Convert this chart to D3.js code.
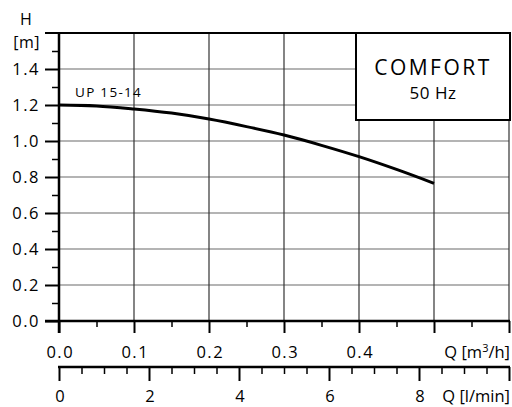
<!DOCTYPE html>
<html>
<head>
<meta charset="utf-8">
<script src="https://cdn.jsdelivr.net/npm/d3@7"></script>
<style>
  html, body { margin: 0; padding: 0; background: #fff; }
  svg { display: block; font-family: "Open Sans", sans-serif; }
</style>
</head>
<body>
<svg id="chart" width="512" height="407"></svg>
<script>
// Pump curve: head H [m] against flow Q [m³/h]
const flowQ = [0, 0.05, 0.1, 0.15, 0.2, 0.25, 0.3, 0.35, 0.4, 0.45, 0.5];
const headH = [1.2, 1.195, 1.178, 1.155, 1.122, 1.08, 1.033, 0.976, 0.913, 0.842, 0.765];
const yTickLabels = ["0.0", "0.2", "0.4", "0.6", "0.8", "1.0", "1.2", "1.4"];
const qTickLabels = ["0.0", "0.1", "0.2", "0.3", "0.4"];
const lminTickLabels = ["0", "2", "4", "6", "8"];
const curveName = "UP 15-14";
const modeTitle = "COMFORT";
const modeFreq = "50 Hz";

const FONT = "Open Sans, sans-serif";
const svg = d3.select("#chart");
const x = d3.scaleLinear().domain([0, 0.6]).range([59, 509]);
const y = d3.scaleLinear().domain([0, 1.6]).range([321, 33]);
const xl = d3.scaleLinear().domain([0, 10]).range([59, 509]); // l/min = m³/h * 1000/60

const g = svg.append("g");

// horizontal grid every 0.2 m
const hVals = d3.range(0.2, 1.61, 0.2);
g.selectAll(".hgrid").data(hVals).join("line")
  .attr("x1", x(0)).attr("x2", x(0.6))
  .attr("y1", d => y(d)).attr("y2", d => y(d))
  .attr("stroke", "#6a6a6a").attr("stroke-width", 1.2);

// vertical grid every 0.1 m³/h
const vVals = d3.range(0.1, 0.61, 0.1);
g.selectAll(".vgrid").data(vVals).join("line")
  .attr("x1", d => x(d)).attr("x2", d => x(d))
  .attr("y1", y(0)).attr("y2", y(1.6))
  .attr("stroke", "#333").attr("stroke-width", 1.2);

// top border line extended left as tick
g.append("line").attr("x1", 45).attr("x2", x(0.6) + 1)
  .attr("y1", y(1.6)).attr("y2", y(1.6))
  .attr("stroke", "#000").attr("stroke-width", 2);

// pump curve
const line = d3.line().x((d, i) => x(flowQ[i])).y(d => y(d)).curve(d3.curveMonotoneX);
g.append("path").datum(headH)
  .attr("d", line).attr("fill", "none")
  .attr("stroke", "#000").attr("stroke-width", 3);

// mode box
const bx0 = 356, by1 = 120;
g.append("rect").attr("x", bx0).attr("y", y(1.6))
  .attr("width", x(0.6) + 1 - bx0).attr("height", by1 - y(1.6))
  .attr("fill", "#fff").attr("stroke", "#000").attr("stroke-width", 2);
g.append("text").attr("x", 433).attr("y", 75).attr("text-anchor", "middle")
  .attr("font-size", 21).attr("letter-spacing", 2.5).text(modeTitle);
g.append("text").attr("x", 433).attr("y", 99).attr("text-anchor", "middle")
  .attr("font-size", 17).attr("letter-spacing", 0.5).text(modeFreq);

// Y axis
const yAxis = d3.axisLeft(y).tickValues(d3.range(0, 1.41, 0.2))
  .tickSize(14).tickFormat((d, i) => yTickLabels[i]);
const ya = g.append("g").attr("transform", `translate(${x(0)},0)`).call(yAxis);
ya.select(".domain").remove();
ya.selectAll(".tick line").attr("stroke", "#000").attr("stroke-width", 2);
ya.selectAll(".tick text").attr("x", -19).attr("dy", "0.36em")
  .attr("font-size", 16.5).attr("letter-spacing", 1.5).attr("fill", "#000")
  .attr("font-family", FONT);
const yMinor = d3.axisLeft(y).tickValues(d3.range(0.1, 1.6, 0.2)).tickSize(7).tickFormat("");
const ym = g.append("g").attr("transform", `translate(${x(0)},0)`).call(yMinor);
ym.select(".domain").remove();
ym.selectAll(".tick line").attr("stroke", "#000").attr("stroke-width", 1.5);
g.append("line").attr("x1", x(0)).attr("x2", x(0))
  .attr("y1", y(1.6) - 1).attr("y2", y(0) + 12)
  .attr("stroke", "#000").attr("stroke-width", 2.5);

// X axis (m³/h)
const xAxis = d3.axisBottom(x).tickValues(d3.range(0, 0.61, 0.1))
  .tickSize(12).tickFormat((d, i) => qTickLabels[i] || "");
const xa = g.append("g").attr("transform", `translate(0,${y(0)})`).call(xAxis);
xa.select(".domain").remove();
xa.selectAll(".tick line").attr("stroke", "#000").attr("stroke-width", 2);
xa.selectAll(".tick text").attr("y", 37).attr("dy", 0).attr("dx", 0.75)
  .attr("font-size", 16.5).attr("letter-spacing", 1.5).attr("fill", "#000")
  .attr("font-family", FONT);
const xMinor = d3.axisBottom(x).tickValues(d3.range(0.05, 0.6, 0.1)).tickSize(6).tickFormat("");
const xm = g.append("g").attr("transform", `translate(0,${y(0)})`).call(xMinor);
xm.select(".domain").remove();
xm.selectAll(".tick line").attr("stroke", "#000").attr("stroke-width", 1.5);
g.append("line").attr("x1", x(0) - 14).attr("x2", x(0.6) + 1)
  .attr("y1", y(0)).attr("y2", y(0))
  .attr("stroke", "#000").attr("stroke-width", 2.5);

// second X axis (l/min)
const axY2 = 367;
const lAxis = d3.axisBottom(xl).tickValues(d3.range(0, 10.1, 2))
  .tickSize(14).tickFormat((d, i) => lminTickLabels[i] || "");
const la = g.append("g").attr("transform", `translate(0,${axY2})`).call(lAxis);
la.select(".domain").remove();
la.selectAll(".tick line").attr("stroke", "#000").attr("stroke-width", 2);
la.selectAll(".tick text").attr("y", 35).attr("dy", 0).attr("dx", 0.5)
  .attr("font-size", 16.5).attr("fill", "#000")
  .attr("font-family", FONT);
const lMinor = d3.axisBottom(xl).tickValues(d3.range(0.5, 10, 0.5).filter(v => v % 2 !== 0))
  .tickSize(7).tickFormat("");
const lm = g.append("g").attr("transform", `translate(0,${axY2})`).call(lMinor);
lm.select(".domain").remove();
lm.selectAll(".tick line").attr("stroke", "#000").attr("stroke-width", 1.5);
g.append("line").attr("x1", xl(0) - 1).attr("x2", xl(10) + 1)
  .attr("y1", axY2).attr("y2", axY2)
  .attr("stroke", "#000").attr("stroke-width", 2.5);

// axis titles
g.append("text").attr("x", 26).attr("y", 25).attr("text-anchor", "middle")
  .attr("font-size", 16).text("H");
g.append("text").attr("x", 40).attr("y", 47.5).attr("text-anchor", "end")
  .attr("font-size", 16).attr("letter-spacing", 0.5).text("[m]");

const qt = g.append("text").attr("x", 510).attr("y", 358).attr("text-anchor", "end")
  .attr("font-size", 16.5);
qt.append("tspan").text("Q  [m");
qt.append("tspan").attr("dy", -6).attr("font-size", 11).text("3");
qt.append("tspan").attr("dy", 6).text("/h]");

g.append("text").attr("x", 510).attr("y", 402).attr("text-anchor", "end")
  .attr("font-size", 16.5).text("Q  [l/min]");

// curve label
g.append("text").attr("x", 75).attr("y", 97)
  .attr("font-size", 13.5).attr("letter-spacing", 1.3).text(curveName);
</script>
</body>
</html>
